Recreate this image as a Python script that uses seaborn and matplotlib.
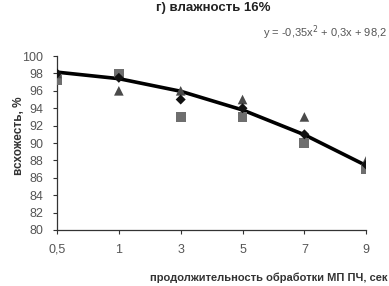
import numpy as np
import pandas as pd
import matplotlib
matplotlib.use("Agg")
import matplotlib.pyplot as plt
import seaborn as sns

# time categories and measured germination
times = ["0,5", "1", "3", "5", "7", "9"]
ser_diamond = [98.0, 97.5, 95.0, 94.0, 91.0, 87.5]
ser_square = [97.2, 98.0, 93.0, 93.0, 90.0, 87.0]
ser_triangle = [98.0, 96.0, 96.0, 95.0, 93.0, 88.0]
# trend y = -0.35x^2 + 0.3x + 98.2 at x = 1..6
trend = [98.15, 97.4, 95.95, 93.8, 90.95, 87.4]

sns.set_style("white")
plt.rcParams["font.family"] = ["Liberation Sans", "DejaVu Sans"]

fig = plt.figure(figsize=(3.89, 2.86), dpi=100)
ax = fig.add_axes([0.1465, 0.196, 0.795, 0.608])

pos = np.arange(len(times))
df = pd.DataFrame({"pos": pos, "d": ser_diamond, "s": ser_square, "t": ser_triangle, "tr": trend})

sns.lineplot(data=df, x="pos", y="tr", color="black", lw=2.6, ax=ax, zorder=2)
sns.scatterplot(data=df, x="pos", y="s", marker="s", color="#6e6e6e", s=50, edgecolor="none", ax=ax, zorder=3)
sns.scatterplot(data=df, x="pos", y="t", marker="^", color="#4a4a4a", s=48, edgecolor="none", ax=ax, zorder=3)
sns.scatterplot(data=df, x="pos", y="d", marker="D", color="#111111", s=26, edgecolor="none", ax=ax, zorder=4)

ax.set_xlim(0, 5)
ax.set_ylim(80, 100)
ax.set_xticks(pos)
ax.set_xticklabels(times)
ax.set_yticks(np.arange(80, 101, 2))
ax.tick_params(axis="both", labelsize=9, labelcolor="#555555", direction="out",
               length=3, width=0.8, color="#333333", bottom=True, left=True, pad=7)
for sp in ["top", "right"]:
    ax.spines[sp].set_visible(False)
for sp in ["left", "bottom"]:
    ax.spines[sp].set_color("#333333")
    ax.spines[sp].set_linewidth(0.9)

ax.set_xlabel("")
ax.set_ylabel("")
fig.text(0.548, 0.972, "г) влажность 16%", ha="center", va="center", fontsize=9.5, fontweight="bold", color="#222222")
fig.text(0.995, 0.885, "y = -0,35x$^2$ + 0,3x + 98,2", ha="right", va="center", fontsize=8, color="#555555")
fig.text(0.05, 0.525, "всхожесть, %", rotation=90, ha="center", va="center", fontsize=8.5, fontweight="bold", color="#333333")
fig.text(0.995, 0.03, "продолжительность обработки МП ПЧ, сек", ha="right", va="center", fontsize=8, fontweight="bold", color="#333333")

fig.savefig("out.png", dpi=100)
